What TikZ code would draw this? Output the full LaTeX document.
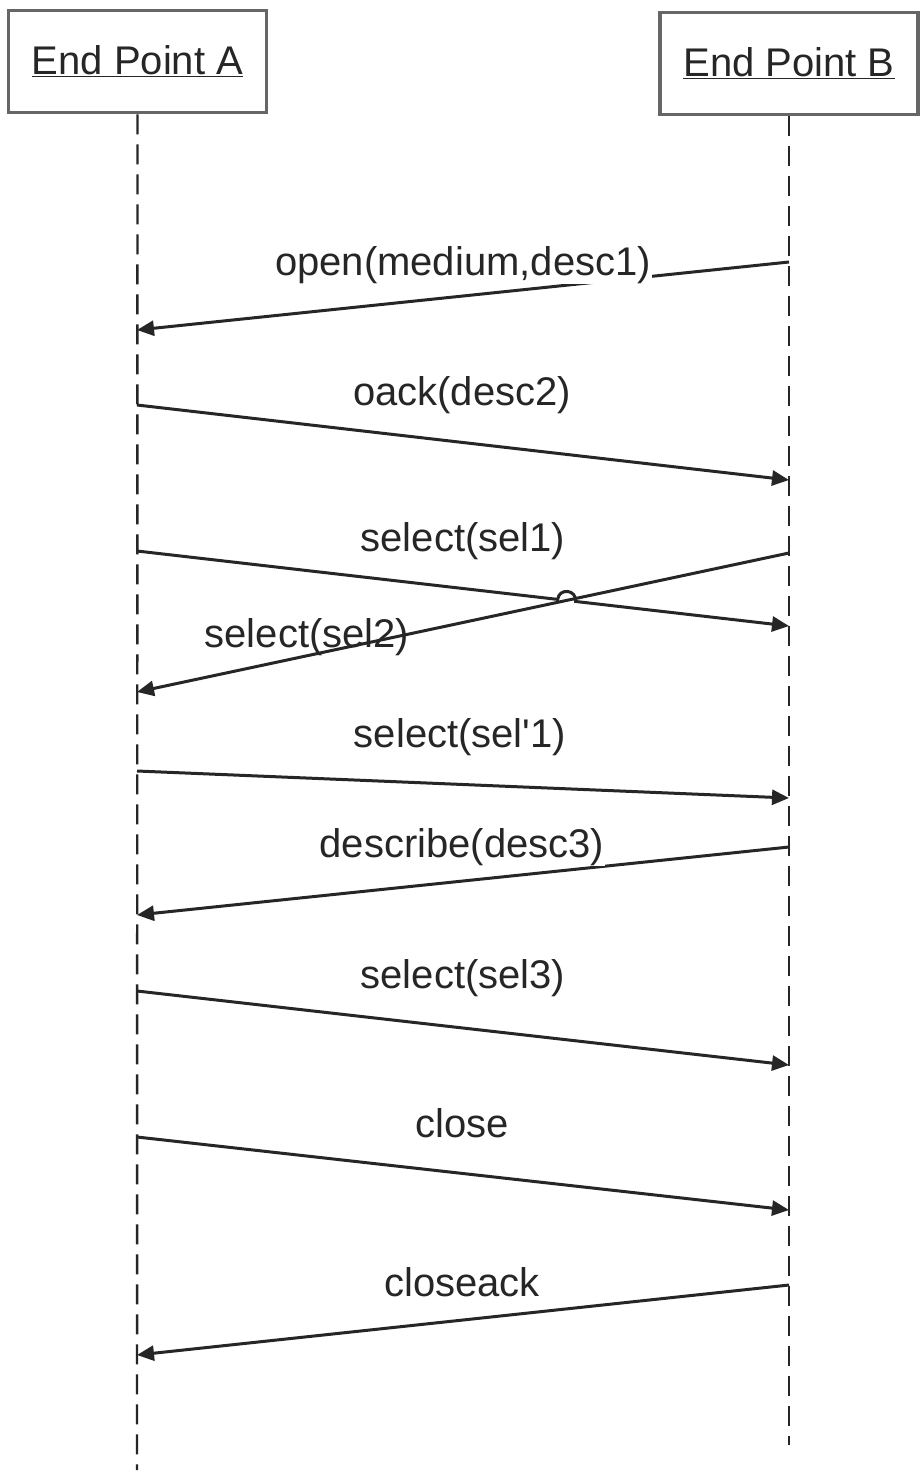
\documentclass[tikz,border=0pt]{standalone}
\usepackage{fontspec}
\setmainfont{Liberation Sans}
\usetikzlibrary{arrows.meta,calc,intersections}
\begin{document}
\begin{tikzpicture}[x=1pt,y=-1pt,
  lbl/.style={inner sep=1pt,anchor=base,font=\fontsize{40}{48}\selectfont,text=black!85},
  lblw/.style={lbl,fill=white},
  head/.style={draw=black!60,line width=3.5pt,fill=white,minimum width=258pt,minimum height=102pt,inner sep=0pt,font=\fontsize{40}{48}\selectfont,text=black!85},
  life/.style={line width=2.4pt,draw=black!85,dash pattern=on 20pt off 10pt},
  msg/.style={line width=3pt,draw=black!85,-{Triangle[length=17pt,width=15pt]}}]
\useasboundingbox (0,0) rectangle (922,1472);
\fill[white] (0,0) rectangle (922,1472);
% heads
\node[head] (A) at (137.5,61.5) {\underline{End Point A}};
\node[head] (B) at (789,63.5) {\underline{End Point B}};
% lifelines
\coordinate (Aend) at (137,1470);
\coordinate (Bend) at (789,1445);
\draw[life] (A.south) -- (Aend);
\draw[life] (B.south) -- (Bend);
% message end points
\coordinate (b1) at (789,262);  \coordinate (a1) at (137,330);
\coordinate (a2) at (137,405);  \coordinate (b2) at (789,480);
\coordinate (a3) at (137,551);  \coordinate (b3) at (789,626);
\coordinate (b4) at (789,553);  \coordinate (a4) at (137,692);
\coordinate (a5) at (137,771);  \coordinate (b5) at (789,798);
\coordinate (b6) at (789,847);  \coordinate (a6) at (137,915);
\coordinate (a7) at (137,991);  \coordinate (b7) at (789,1065);
\coordinate (a8) at (137,1137); \coordinate (b8) at (789,1210);
\coordinate (b9) at (789,1285); \coordinate (a9) at (137,1355);
% messages
\draw[msg] (b1) -- (a1);
\draw[msg] (a2) -- (b2);
\path[name path=m4] (b4) -- (a4);
\path[name path=m3] (a3) -- (b3);
\path[name intersections={of=m3 and m4,by=X}];
\coordinate (h1) at ($(X)!9pt!(a3)$);
\coordinate (h2) at ($(X)!9pt!(b3)$);
\coordinate (c1) at ($(h1)!12pt!90:(X)$);
\coordinate (c2) at ($(h2)!12pt!-90:(X)$);
\draw[msg] (a5) -- (b5);
\draw[msg] (b6) -- (a6);
\draw[msg] (a7) -- (b7);
\draw[msg] (a8) -- (b8);
\draw[msg] (b9) -- (a9);
% labels
\node[lblw] (l1) at (463,275) {open(medium,desc1)};
\node[lblw] (l2) at (462,405) {oack(desc2)};
\node[lblw] (l3) at (463,551) {select(sel1)};
\node[lbl] (l4) at (307,647) {select(sel2)};
\node[lblw] (l5) at (460,747) {select(sel\textquotesingle1)};
\node[lblw] (l6) at (462,857) {describe(desc3)};
\node[lblw] (l7) at (463,988) {select(sel3)};
\node[lblw] (l8) at (462,1137) {close};
\node[lblw] (l9) at (462,1296) {closeack};
% crossing messages (drawn over the unfilled label)
\draw[msg] (b4) -- (a4);
\draw[msg] (a3) -- (h1) .. controls (c1) and (c2) .. (h2) -- (b3);
\end{tikzpicture}
\end{document}
